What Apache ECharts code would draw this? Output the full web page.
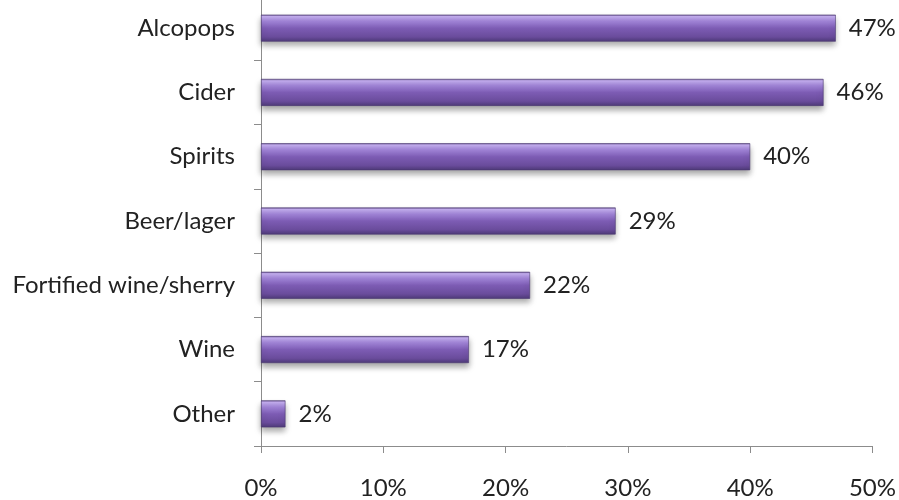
<!DOCTYPE html>
<html>
<head>
<meta charset="utf-8">
<script src="https://cdn.jsdelivr.net/npm/echarts@6/dist/echarts.min.js"></script>
<style>
  html, body { margin: 0; padding: 0; background: #ffffff; overflow: hidden; }
  /* the top band starts just above the page edge */
  #chart { position: absolute; left: 0; top: -4px; width: 899px; height: 504px; }
</style>
</head>
<body>
<div id="chart"></div>
<script>
// Drink categories, top to bottom as shown
const categories = ['Alcopops', 'Cider', 'Spirits', 'Beer/lager', 'Fortified wine/sherry', 'Wine', 'Other'];
// Share of respondents (%)
const shares = [47, 46, 40, 29, 22, 17, 2];
// Value axis range and step (%)
const axisMin = 0;
const axisMax = 50;
const axisStep = 10;

const chart = echarts.init(document.getElementById('chart'), null, { renderer: 'canvas' });

const fontFamily = 'Lato, "Open Sans", sans-serif';
const textColor = '#222222';
const axisColor = '#8c8c8c';

// Bevelled purple fill, light on top and darker toward the bottom
const barFill = new echarts.graphic.LinearGradient(0, 0, 0, 1, [
  { offset: 0.00, color: '#6a5590' },
  { offset: 0.07, color: '#c4aef0' },
  { offset: 0.25, color: '#a184d8' },
  { offset: 0.50, color: '#7d5cb4' },
  { offset: 0.82, color: '#6a4c9c' },
  { offset: 1.00, color: '#4e3a78' }
]);

chart.setOption({
  animation: false,
  grid: { left: 261, right: 25, top: 0, bottom: 52, containLabel: false },
  xAxis: {
    type: 'value',
    min: axisMin,
    max: axisMax,
    interval: axisStep,
    splitLine: { show: false },
    axisLine: { show: true, lineStyle: { color: axisColor, width: 1 } },
    axisTick: { show: true, length: 7, lineStyle: { color: axisColor } },
    axisLabel: {
      margin: 30,
      color: textColor,
      fontSize: 24,
      fontFamily: fontFamily,
      formatter: v => v + '%'
    }
  },
  yAxis: {
    type: 'category',
    inverse: true,
    data: categories,
    axisLine: { show: true, lineStyle: { color: axisColor, width: 1 } },
    axisTick: { show: true, length: 7, lineStyle: { color: axisColor } },
    axisLabel: {
      margin: 26,
      color: textColor,
      fontSize: 24,
      fontFamily: fontFamily
    }
  },
  series: [{
    type: 'bar',
    data: shares,
    barWidth: 27,
    itemStyle: {
      color: barFill,
      borderColor: '#4a3870',
      borderWidth: 0.6,
      shadowColor: 'rgba(0,0,0,0.35)',
      shadowBlur: 6,
      shadowOffsetY: 4
    },
    label: {
      show: true,
      position: 'right',
      distance: 13,
      color: textColor,
      fontSize: 24,
      fontFamily: fontFamily,
      formatter: p => p.value + '%'
    }
  }]
});
</script>
</body>
</html>
